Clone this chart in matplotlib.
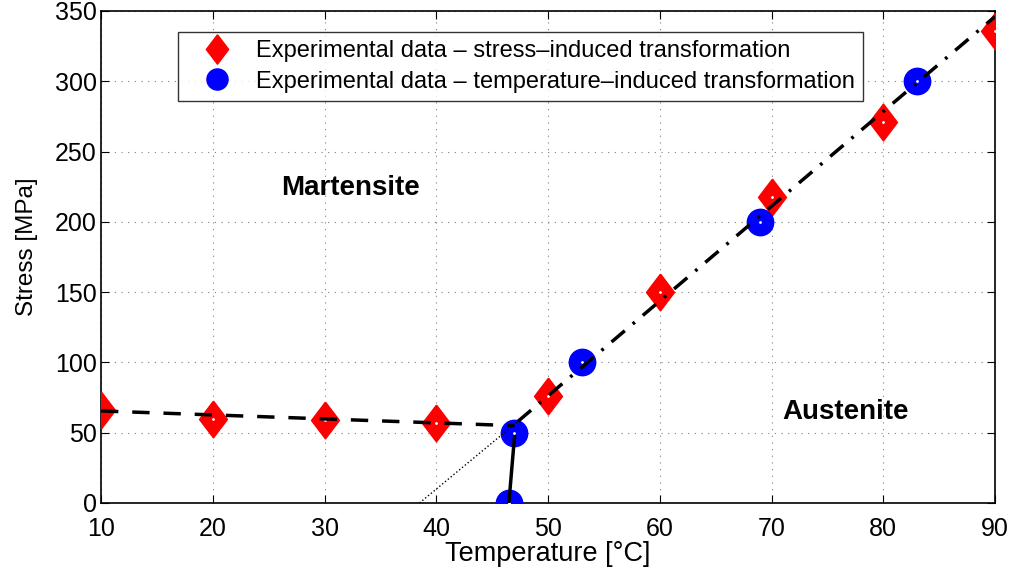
import matplotlib
matplotlib.use("Agg")
import matplotlib.pyplot as plt

plt.rcParams['font.family'] = ['Liberation Sans', 'DejaVu Sans']

# stress-induced transformation (red diamonds)
stress_T = [10, 20, 30, 40, 50, 60, 70, 80, 90]
stress_S = [66, 60, 59, 57, 76, 150, 218, 271, 336]

# temperature-induced transformation (blue circles)
temp_T = [46.5, 47, 53, 69, 83]
temp_S = [0, 50, 100, 200, 300]

# fitted lines
mart_T = [10, 47]
mart_S = [65.5, 55]
aus_T = [47.3, 90]
aus_S = [58, 346]
ext_T = [38.5, 47.3]
ext_S = [0, 58]
vert_T = [46.5, 47]
vert_S = [0, 47]

diamond = [(0, 1), (0.76, 0), (0, -1), (-0.76, 0), (0, 1)]

fig = plt.figure(figsize=(10.24, 5.76), dpi=100)
ax = fig.add_axes([101 / 1024, 1 - 503 / 576, 894 / 1024, 492 / 576])

ax.plot(stress_T, stress_S, linestyle='none', marker=diamond, markersize=26.5,
        color='red', markeredgecolor='red', zorder=3,
        label='Experimental data \u2013 stress\u2013induced transformation')
ax.plot(temp_T, temp_S, linestyle='none', marker='o', markersize=19,
        color='blue', markeredgecolor='blue', zorder=3,
        label='Experimental data \u2013 temperature\u2013induced transformation')
ax.plot(stress_T + temp_T, stress_S + temp_S, linestyle='none', marker='.',
        markersize=2, color='white', zorder=3.5)

ax.plot(mart_T, mart_S, 'k--', lw=2.5, dashes=(5, 4), zorder=4)
ax.plot(aus_T, aus_S, 'k-.', lw=2.5, dashes=(5, 3, 0.8, 3), zorder=4)
ax.plot(ext_T, ext_S, 'k:', lw=1, zorder=4)
ax.plot(vert_T, vert_S, 'k-', lw=2.5, zorder=4)

ax.text(32.3, 224, 'Martensite', fontsize=20, fontweight='bold',
        ha='center', va='center')
ax.text(76.6, 65, 'Austenite', fontsize=20, fontweight='bold',
        ha='center', va='center')

ax.set_xlim(10, 90)
ax.set_ylim(0, 350)
ax.set_xticks(range(10, 91, 10))
ax.set_yticks(range(0, 351, 50))
ax.tick_params(direction='in', top=True, right=True, labelsize=18,
               length=6, width=0.8, pad=3)
ax.tick_params(axis='x', pad=10)
ax.grid(True, linestyle=(0, (1, 5)), color='#808080', lw=0.8)
for s in ax.spines.values():
    s.set_linewidth(1.2)

ax.set_xlabel('Temperature [\u00b0C]', fontsize=19.5, labelpad=0)
ax.set_ylabel('Stress [MPa]', fontsize=17.5)
ax.yaxis.set_label_coords(-0.071, 0.52)

leg = ax.legend(loc='upper left', bbox_to_anchor=(0.086, 0.957), fontsize=17,
                frameon=True, fancybox=False, edgecolor='black',
                borderaxespad=0, handletextpad=0.35, handlelength=2.6,
                markerscale=0.8, labelspacing=0.35, borderpad=0.35)
leg.get_frame().set_linewidth(1)

fig.savefig('out.png', dpi=100)
